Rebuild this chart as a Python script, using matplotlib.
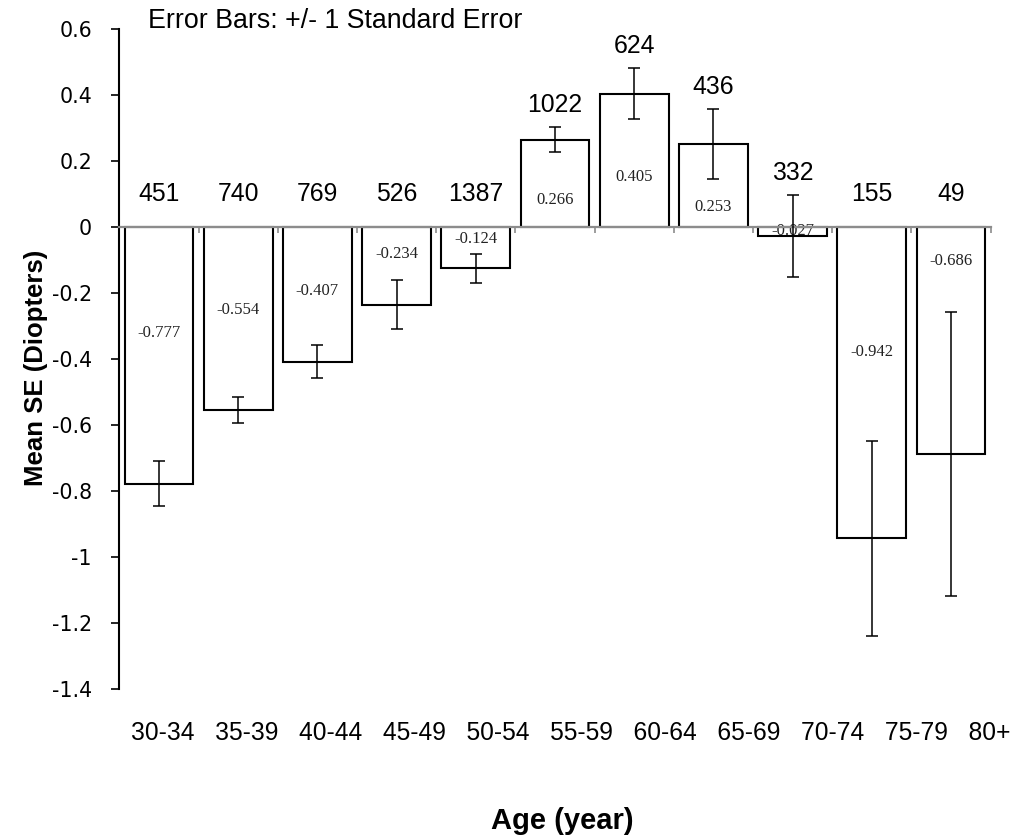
import numpy as np
import matplotlib.pyplot as plt

# mean spherical equivalent by age group, with SE and sample size
age_groups = ['30-34', '35-39', '40-44', '45-49', '50-54', '55-59',
              '60-64', '65-69', '70-74', '75-79', '80+']
mean_se = [-0.777, -0.554, -0.407, -0.234, -0.124, 0.266,
           0.405, 0.253, -0.027, -0.942, -0.686]
std_err = [0.068, 0.040, 0.050, 0.075, 0.044, 0.038,
           0.077, 0.105, 0.124, 0.295, 0.430]
counts = [451, 740, 769, 526, 1387, 1022, 624, 436, 332, 155, 49]

# where the value text sits inside each bar (fraction of bar height)
inner_frac = [0.41, 0.45, 0.47, 0.35, 0.28, 0.31, 0.38, 0.245, 0.40, 0.40, 0.15]

W, H = 1017, 838
fig = plt.figure(figsize=(W / 100, H / 100), dpi=100)
ax = fig.add_axes([119.4 / W, 1 - 689.4 / H, 871.2 / W, 660 / H])

x = np.arange(len(mean_se))
ax.bar(x, mean_se, width=0.87, color='white', edgecolor='black',
       linewidth=1.5, zorder=1)
ax.errorbar(x, mean_se, yerr=std_err, fmt='none', ecolor='black',
            elinewidth=1.1, capsize=4.3, capthick=1.1, zorder=3)

for i, (m, e, n, f) in enumerate(zip(mean_se, std_err, counts, inner_frac)):
    ax.text(i, m * f, f'{m:.3f}', ha='center', va='center',
            fontsize=12, family='Liberation Serif', color='#222222', zorder=2)
    ytop = max(m + e, 0.035) + 0.03
    ax.text(i, ytop, str(n), ha='center', va='bottom',
            fontsize=17.8, family='Liberation Sans')

ax.set_xlim(-0.5, len(x) - 0.5)
ax.set_ylim(-1.4, 0.6)
ax.set_yticks(np.arange(-1.4, 0.61, 0.2))
ax.set_yticklabels(['-1.4', '-1.2', '-1', '-0.8', '-0.6', '-0.4', '-0.2',
                    '0', '0.2', '0.4', '0.6'])
ax.tick_params(axis='y', direction='out', length=5.8, width=1.2,
               pad=14, labelsize=14.8)
for t in ax.get_yticklabels():
    t.set_family('DejaVu Sans')

ax.spines['top'].set_visible(False)
ax.spines['right'].set_visible(False)
ax.spines['left'].set_linewidth(1.5)
ax.spines['bottom'].set_position(('data', 0))
ax.spines['bottom'].set_color('#8c8c8c')
ax.spines['bottom'].set_linewidth(1.6)
ax.set_xticks(np.arange(-0.5, len(x), 1.0))
ax.set_xticklabels([])
ax.tick_params(axis='x', direction='out', length=4, width=1.2,
               color='#8c8c8c')

# the age labels in the original are one line of text, evenly gapped
fig.text(131 / W, 1 - 733 / H, '   '.join(age_groups), ha='left',
         va='center', fontsize=17.7, family='Liberation Sans')

fig.text(148 / W, 1 - 21 / H, 'Error Bars: +/- 1 Standard Error',
         ha='left', va='center', fontsize=19.3, family='Liberation Sans')
fig.text(36 / W, 1 - 368 / H, 'Mean SE (Diopters)', rotation=90,
         ha='center', va='center', fontsize=18.5, fontweight='bold',
         family='Liberation Sans')
fig.text(562 / W, 1 - 821 / H, 'Age (year)', ha='center', va='center',
         fontsize=21, fontweight='bold', family='Liberation Sans')

fig.savefig('out.png', dpi=100)
